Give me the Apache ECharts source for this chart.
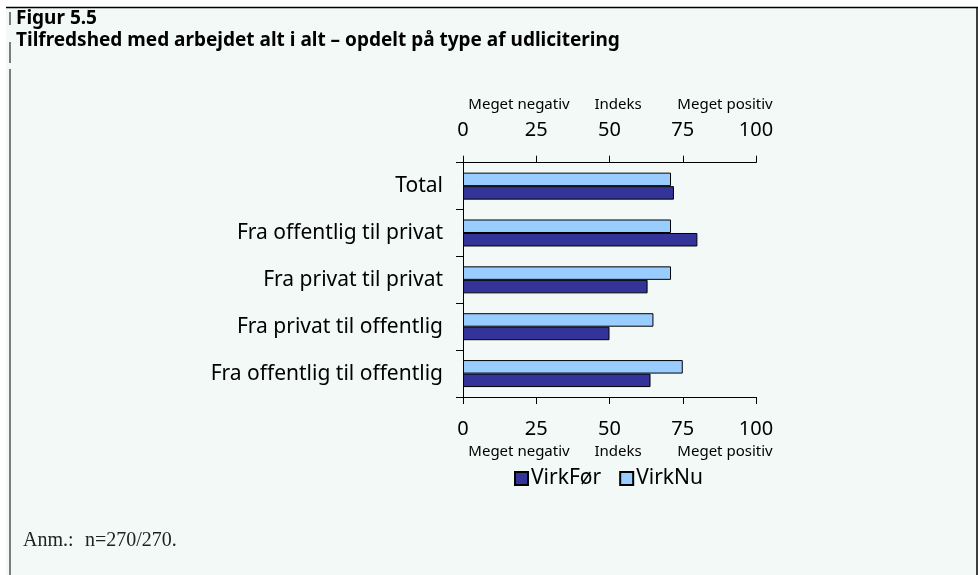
<!DOCTYPE html>
<html>
<head>
<meta charset="utf-8">
<script src="https://cdn.jsdelivr.net/npm/echarts@6/dist/echarts.min.js"></script>
<style>
  html, body { margin: 0; padding: 0; background: #fff; }
  #chart { width: 978px; height: 575px; }
</style>
</head>
<body>
<div id="chart"></div>
<script>
const categories = [
  "Total",
  "Fra offentlig til privat",
  "Fra privat til privat",
  "Fra privat til offentlig",
  "Fra offentlig til offentlig"
];
const virkFoer = [72, 80, 63, 50, 64];
const virkNu = [71, 71, 71, 65, 75];
const axisTicks = [0, 25, 50, 75, 100];
const axisCaptions = ["Meget negativ", "Indeks", "Meget positiv"];

const font = "Noto Sans";
const chart = echarts.init(document.getElementById("chart"));

const valueAxis = (pos) => ({
  type: "value",
  position: pos,
  min: axisTicks[0],
  max: axisTicks[axisTicks.length - 1],
  interval: 25,
  splitLine: { show: false },
  axisLine: { show: true, lineStyle: { color: "#000", width: 1 } },
  axisTick: { show: true, length: 7, lineStyle: { color: "#000" } },
  axisLabel: { color: "#000", fontSize: 20, fontFamily: font, margin: 22 }
});

// caption rows above the top axis and below the bottom axis
const captionX = [519, 618, 725];
const captionText = (y) => axisCaptions.map((t, i) => ({
  type: "text",
  x: captionX[i],
  y: y,
  style: { text: t, fill: "#000", font: "15px " + font, textAlign: "center", textVerticalAlign: "middle" }
}));

const txt = (x, y, text, f, fill) => ({
  type: "text", x, y,
  style: { text, fill: fill || "#000", font: f, textAlign: "left", textVerticalAlign: "middle" }
});

chart.setOption({
  backgroundColor: "#fff",
  animation: false,
  grid: { left: 463, right: 222, top: 162.7, bottom: 178, containLabel: false },
  legend: {
    data: ["VirkFør", "VirkNu"],
    left: 509,
    top: 463,
    itemWidth: 13,
    itemHeight: 13,
    itemGap: 18,
    icon: "rect",
    textStyle: { fontSize: 21, fontFamily: font, color: "#000", padding: [0, 0, 0, -2] }
  },
  xAxis: [valueAxis("top"), valueAxis("bottom")],
  yAxis: {
    type: "category",
    inverse: true,
    data: categories,
    axisLine: { show: true, lineStyle: { color: "#000" } },
    axisTick: { show: true, length: 7, lineStyle: { color: "#000" } },
    axisLabel: { color: "#000", fontSize: 21, fontFamily: font, margin: 20 }
  },
  graphic: [
    { type: "rect", shape: { x: 6, y: 7, width: 972, height: 568 }, style: { fill: "#f2f9f7" }, z: -10 },
    { type: "line", shape: { x1: 6, y1: 7.5, x2: 978, y2: 7.5 }, style: { stroke: "#000", lineWidth: 1.5 } },
    { type: "line", shape: { x1: 977, y1: 7, x2: 977, y2: 575 }, style: { stroke: "#000", lineWidth: 1.5 } },
    { type: "line", shape: { x1: 10, y1: 12, x2: 10, y2: 25 }, style: { stroke: "#000", lineWidth: 1 } },
    { type: "line", shape: { x1: 10, y1: 42, x2: 10, y2: 63 }, style: { stroke: "#000", lineWidth: 1 } },
    { type: "line", shape: { x1: 10, y1: 69, x2: 10, y2: 575 }, style: { stroke: "#000", lineWidth: 1 } },
    txt(16, 19, "Figur 5.5", "bold 19px " + font),
    txt(16, 41, "Tilfredshed med arbejdet alt i alt \u2013 opdelt på type af udlicitering", "bold 19px " + font),
    ...captionText(105),
    ...captionText(452),
    txt(23, 541, "Anm.:", "20px 'Liberation Serif'", "#222"),
    txt(85, 541, "n=270/270.", "20px 'Liberation Serif'", "#222")
  ],
  series: [
    {
      name: "VirkNu",
      type: "bar",
      data: virkNu,
      barWidth: 13.5,
      barGap: "0%",
      itemStyle: { color: "#99ccff", borderColor: "#000", borderWidth: 1 }
    },
    {
      name: "VirkFør",
      type: "bar",
      data: virkFoer,
      barWidth: 13.5,
      barGap: "0%",
      itemStyle: { color: "#333399", borderColor: "#000", borderWidth: 1 }
    }
  ]
});
</script>
</body>
</html>
